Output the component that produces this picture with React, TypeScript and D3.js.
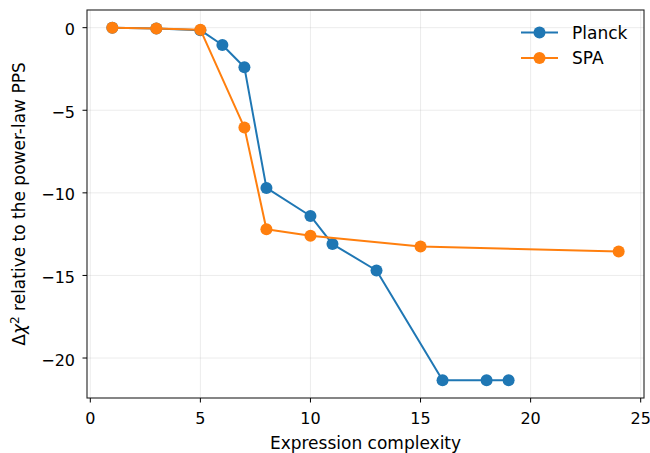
import React from "react";
import * as d3 from "d3";

const planckX = [1, 3, 5, 6, 7, 8, 10, 11, 13, 16, 18, 19];
const planckY = [0, -0.05, -0.15, -1.05, -2.4, -9.7, -11.4, -13.1, -14.7, -21.35, -21.35, -21.35];
const spaX = [1, 3, 5, 7, 8, 10, 15, 24];
const spaY = [0, -0.05, -0.12, -6.05, -12.2, -12.6, -13.25, -13.55];
const xTicks = [0, 5, 10, 15, 20, 25];
const yTicks = [0, -5, -10, -15, -20];
const seriesNames = ["Planck", "SPA"];
const colors = ["#1f77b4", "#ff7f0e"];

const width = 650;
const height = 453;
const margin = { top: 10, right: 6, bottom: 55, left: 87 };

export default function App() {
  const x = d3.scaleLinear().domain([-0.15, 25.15]).range([margin.left, width - margin.right]);
  const y = d3.scaleLinear().domain([1.07, -22.42]).range([margin.top, height - margin.bottom]);

  const line = d3
    .line<[number, number]>()
    .x((d) => x(d[0]))
    .y((d) => y(d[1]));

  const series = [
    planckX.map((v, i) => [v, planckY[i]] as [number, number]),
    spaX.map((v, i) => [v, spaY[i]] as [number, number]),
  ];

  const font = "DejaVu Sans, sans-serif";
  const x0 = margin.left;
  const x1 = width - margin.right;
  const y0 = margin.top;
  const y1 = height - margin.bottom;

  return (
    <svg width={width} height={height} style={{ position: "absolute", left: 0, top: 0 }} fontFamily={font}>
      <rect width={width} height={height} fill="white" />
      {/* grid */}
      {xTicks.map((t) => (
        <line key={"gx" + t} x1={x(t)} x2={x(t)} y1={y0} y2={y1} stroke="#b0b0b0" strokeOpacity={0.3} strokeWidth={0.8} />
      ))}
      {yTicks.map((t) => (
        <line key={"gy" + t} x1={x0} x2={x1} y1={y(t)} y2={y(t)} stroke="#b0b0b0" strokeOpacity={0.3} strokeWidth={0.8} />
      ))}
      {/* series */}
      {series.map((s, i) => (
        <g key={i}>
          <path d={line(s) ?? ""} fill="none" stroke={colors[i]} strokeWidth={2} strokeLinejoin="round" />
          {s.map((d, j) => (
            <circle key={j} cx={x(d[0])} cy={y(d[1])} r={6} fill={colors[i]} />
          ))}
        </g>
      ))}
      {/* frame */}
      <rect x={x0} y={y0} width={x1 - x0} height={y1 - y0} fill="none" stroke="#222" strokeWidth={1.1} />
      {/* x axis */}
      {xTicks.map((t) => (
        <g key={"xt" + t}>
          <line x1={x(t)} x2={x(t)} y1={y1} y2={y1 + 4.5} stroke="black" strokeWidth={1} />
          <text x={x(t)} y={y1 + 26} textAnchor="middle" fontSize={16}>
            {t}
          </text>
        </g>
      ))}
      {/* y axis */}
      {yTicks.map((t) => (
        <g key={"yt" + t}>
          <line x1={x0 - 4.5} x2={x0} y1={y(t)} y2={y(t)} stroke="black" strokeWidth={1} />
          <text x={x0 - 12} y={y(t) + 7.5} textAnchor="end" fontSize={16}>
            {t < 0 ? "\u2212" + Math.abs(t) : t}
          </text>
        </g>
      ))}
      <text x={(x0 + x1) / 2} y={449} textAnchor="middle" fontSize={17}>
        Expression complexity
      </text>
      <text transform={`translate(25, ${(y0 + y1) / 2}) rotate(-90)`} textAnchor="middle" fontSize={17}>
        Δ<tspan fontStyle="italic">χ</tspan>
        <tspan dy={-6} fontSize={12}>2</tspan>
        <tspan dy={6}> relative to the power-law PPS</tspan>
      </text>
      {/* legend */}
      {seriesNames.map((n, i) => (
        <g key={n}>
          <line x1={521} x2={558} y1={32.5 + i * 25.5} y2={32.5 + i * 25.5} stroke={colors[i]} strokeWidth={2} />
          <circle cx={539.5} cy={32.5 + i * 25.5} r={6} fill={colors[i]} />
          <text x={572} y={32.5 + i * 25.5 + 6} fontSize={17}>
            {n}
          </text>
        </g>
      ))}
    </svg>
  );
}
